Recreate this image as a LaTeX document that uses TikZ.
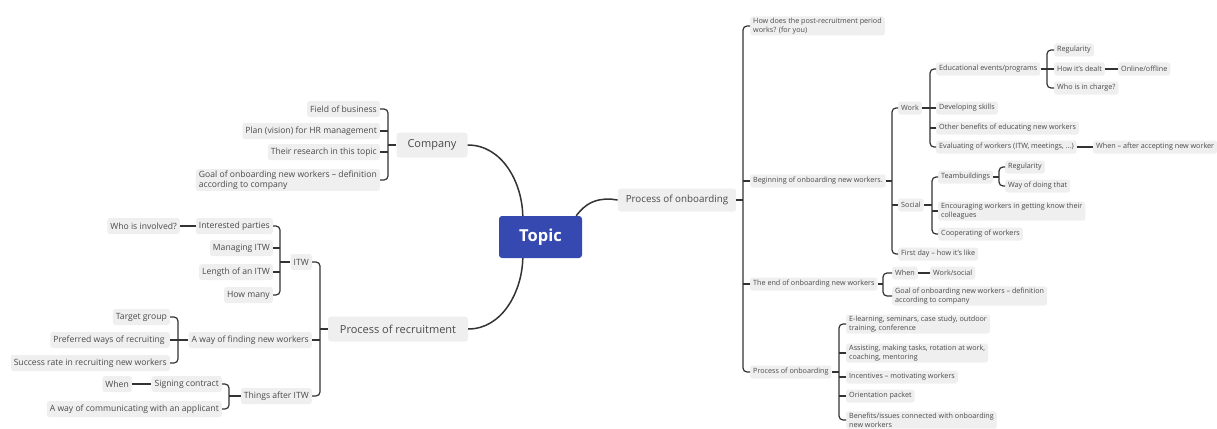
\documentclass[tikz,border=0pt]{standalone}
\usepackage{fontspec}
\setmainfont{Open Sans}
\usetikzlibrary{calc}
\definecolor{nodegray}{HTML}{EFEFEF}
\definecolor{txt}{HTML}{4A4A4A}
\definecolor{lc}{HTML}{333333}
\definecolor{topicblue}{HTML}{3549B0}
\begin{document}
\begin{tikzpicture}[x=1pt,y=-1pt,
  box/.style={fill=nodegray,rounded corners=2.5pt,text=txt,inner xsep=3pt,inner ysep=1.5pt,align=left},
  lnode/.style={box,font=\fontsize{8.6}{10.3}\selectfont,minimum height=16pt},
  rnode/.style={box,font=\fontsize{7.2}{8.8}\selectfont,minimum height=13pt},
  mnode/.style={box,font=\fontsize{11}{13}\selectfont,minimum height=25pt,inner xsep=8pt,rounded corners=3pt},
  conn/.style={draw=lc,line width=1.2pt,rounded corners=4pt},
  mainconn/.style={draw=lc,line width=1.5pt}]
\useasboundingbox (0,0) rectangle (1217,428);

% central topic
\node[fill=topicblue,rounded corners=3pt,text=white,font=\fontsize{16.5}{18}\selectfont\bfseries,minimum width=83pt,minimum height=42pt] (topic) at (540.5,237) {Topic};

% main branches
\node[mnode,minimum width=71pt] (comp) at (432,145) {Company};
\node[mnode,minimum width=140pt] (prec) at (398,329) {Process of recruitment};
\node[mnode,minimum width=118pt,font=\fontsize{9.8}{12}\selectfont,minimum height=23pt] (ponb) at (677,200) {Process of onboarding};

\draw[mainconn] (comp.east) .. controls (502,145) and (522,182) .. ($(topic.north west)+(24,0)$);
\draw[mainconn] (prec.east) .. controls (502,329) and (522,292) .. ($(topic.south west)+(24,0)$);
\draw[mainconn] ($(topic.north east)+(-6,0)$) .. controls (586,203) and (595,199) .. (610,199) -- (ponb.west);

% ---------- Company ----------
\node[lnode,anchor=east] (cf) at (380,109) {Field of business};
\node[lnode,anchor=east] (cp) at (380,131) {Plan (vision) for HR management};
\node[lnode,anchor=east] (cr) at (380,152) {Their research in this topic};
\node[lnode,anchor=east] (cg) at (380,180) {Goal of onboarding new workers – definition\\according to company};
\coordinate (sc1) at (388,0);
\draw[conn] (cf.east) -- (cf.east -| sc1) -- (cg.east -| sc1) -- (cg.east);
\draw[conn] (cp.east) -- (cp.east -| sc1);
\draw[conn] (cr.east) -- (cr.east -| sc1);
\draw[conn] (comp.west) -- (comp.west -| sc1);

% ---------- Recruitment ----------
\node[lnode,anchor=east] (itw) at (312,262) {ITW};
\node[lnode,anchor=east] (ip) at (273,226) {Interested parties};
\node[lnode,anchor=east] (mi) at (273,248) {Managing ITW};
\node[lnode,anchor=east] (li) at (273,272) {Length of an ITW};
\node[lnode,anchor=east] (hm) at (273,295) {How many};
\node[lnode,anchor=east] (wi) at (180,226) {Who is involved?};
\coordinate (sr1) at (280,0);
\draw[conn] (ip.east) -- (ip.east -| sr1) -- (hm.east -| sr1) -- (hm.east);
\draw[conn] (mi.east) -- (mi.east -| sr1);
\draw[conn] (li.east) -- (li.east -| sr1);
\draw[conn] (itw.west) -- (itw.west -| sr1);
\draw[conn] (wi.east) -- (ip.west);

\node[lnode,anchor=east] (wf) at (312,340) {A way of finding new workers};
\node[lnode,anchor=east] (tg) at (170,317) {Target group};
\node[lnode,anchor=east] (pw) at (170,340) {Preferred ways of recruiting\ };
\node[lnode,anchor=east] (srr) at (170,363) {Success rate in recruiting new workers};
\coordinate (sr2) at (178,0);
\draw[conn] (tg.east) -- (tg.east -| sr2) -- (srr.east -| sr2) -- (srr.east);
\draw[conn] (pw.east) -- (wf.west);

\node[lnode,anchor=east] (ta) at (312,396) {Things after ITW};
\node[lnode,anchor=east] (sgc) at (222,384) {Signing contract};
\node[lnode,anchor=east] (wca) at (222,409) {A way of communicating with an applicant};
\node[lnode,anchor=east] (wh) at (132,384) {When};
\coordinate (sr3) at (229,0);
\draw[conn] (sgc.east) -- (sgc.east -| sr3) -- (wca.east -| sr3) -- (wca.east);
\draw[conn] (ta.west) -- (ta.west -| sr3);
\draw[conn] (wh.east) -- (sgc.west);

\coordinate (sr0) at (320,0);
\draw[conn] (itw.east) -- (itw.east -| sr0) -- (ta.east -| sr0) -- (ta.east);
\draw[conn] (wf.east) -- (wf.east -| sr0);
\draw[conn] (prec.west) -- (prec.west -| sr0);

% ---------- Onboarding ----------
\node[rnode,anchor=west] (q1) at (750,26) {How does the post-recruitment period\\works? (for you)};
\node[rnode,anchor=west] (bg) at (750,181) {Beginning of onboarding new workers.};
\node[rnode,anchor=west] (en) at (750,284) {The end of onboarding new workers};
\node[rnode,anchor=west] (ps) at (750,372) {Process of onboarding};
\coordinate (so0) at (743,0);
\draw[conn] (q1.west) -- (q1.west -| so0) -- (ps.west -| so0) -- (ps.west);
\draw[conn] (bg.west) -- (bg.west -| so0);
\draw[conn] (en.west) -- (en.west -| so0);
\draw[conn] (ponb.east) -- (ponb.east -| so0);

% Beginning
\node[rnode,anchor=west] (wk) at (898,108) {Work};
\node[rnode,anchor=west] (soc) at (898,205) {Social};
\node[rnode,anchor=west] (fd) at (898,254) {First day – how it's like};
\coordinate (so1) at (892,0);
\draw[conn] (wk.west) -- (wk.west -| so1) -- (fd.west -| so1) -- (fd.west);
\draw[conn] (soc.west) -- (soc.west -| so1);
\draw[conn] (bg.east) -- (bg.east -| so1);

% Work
\node[rnode,anchor=west] (ed) at (936,69) {Educational events/programs};
\node[rnode,anchor=west] (ds) at (936,108) {Developing skills};
\node[rnode,anchor=west] (ob) at (936,128) {Other benefits of educating new workers};
\node[rnode,anchor=west] (ev) at (936,147) {Evaluating of workers (ITW, meetings, ...)};
\node[rnode,anchor=west] (ew) at (1093,147) {When – after accepting new worker};
\coordinate (so2) at (930,0);
\draw[conn] (ed.west) -- (ed.west -| so2) -- (ev.west -| so2) -- (ev.west);
\draw[conn] (wk.east) -- (ds.west);
\draw[conn] (ob.west) -- (ob.west -| so2);
\draw[conn] (ev.east) -- (ew.west);

% Educational
\node[rnode,anchor=west] (rg1) at (1054,50) {Regularity};
\node[rnode,anchor=west] (hd) at (1054,69) {How it's dealt};
\node[rnode,anchor=west] (wic) at (1054,88) {Who is in charge?};
\node[rnode,anchor=west] (oo) at (1118,69) {Online/offline};
\coordinate (so3) at (1047,0);
\draw[conn] (rg1.west) -- (rg1.west -| so3) -- (wic.west -| so3) -- (wic.west);
\draw[conn] (ed.east) -- (hd.west);
\draw[conn] (hd.east) -- (oo.west);

% Social
\node[rnode,anchor=west] (tb) at (938,177) {Teambuildings};
\node[rnode,anchor=west] (enc) at (938,211) {Encouraging workers in getting know their\\colleagues};
\node[rnode,anchor=west] (cow) at (938,234) {Cooperating of workers};
\coordinate (so4) at (932,0);
\draw[conn] (tb.west) -- (tb.west -| so4) -- (cow.west -| so4) -- (cow.west);
\draw[conn] (enc.west) -- (enc.west -| so4);
\draw[conn] (soc.east) -- (soc.east -| so4);

% Teambuildings
\node[rnode,anchor=west] (rg2) at (1005,167) {Regularity};
\node[rnode,anchor=west] (wd) at (1005,186) {Way of doing that};
\coordinate (so5) at (999,0);
\draw[conn] (rg2.west) -- (rg2.west -| so5) -- (wd.west -| so5) -- (wd.west);
\draw[conn] (tb.east) -- (tb.east -| so5);

% The end
\node[rnode,anchor=west] (wn) at (892,273) {When};
\node[rnode,anchor=west] (ws) at (930,273) {Work/social};
\node[rnode,anchor=west] (gl) at (892,296) {Goal of onboarding new workers – definition\\according to company};
\coordinate (so6) at (883,0);
\draw[conn] (wn.west) -- (wn.west -| so6) -- (gl.west -| so6) -- (gl.west);
\draw[conn] (en.east) -- (en.east -| so6);
\draw[conn] (wn.east) -- (ws.west);

% Process of onboarding (sub)
\node[rnode,anchor=west] (el) at (846,324) {E-learning, seminars, case study, outdoor\\training, conference};
\node[rnode,anchor=west] (asg) at (846,353) {Assisting, making tasks, rotation at work,\\coaching, mentoring};
\node[rnode,anchor=west] (inc) at (846,377) {Incentives – motivating workers};
\node[rnode,anchor=west] (op) at (846,396) {Orientation packet};
\node[rnode,anchor=west] (be) at (846,420) {Benefits/issues connected with onboarding\\new workers};
\coordinate (so7) at (839,0);
\draw[conn] (el.west) -- (el.west -| so7) -- (be.west -| so7) -- (be.west);
\draw[conn] (asg.west) -- (asg.west -| so7);
\draw[conn] (inc.west) -- (inc.west -| so7);
\draw[conn] (op.west) -- (op.west -| so7);
\draw[conn] (ps.east) -- (ps.east -| so7);
\end{tikzpicture}
\end{document}
